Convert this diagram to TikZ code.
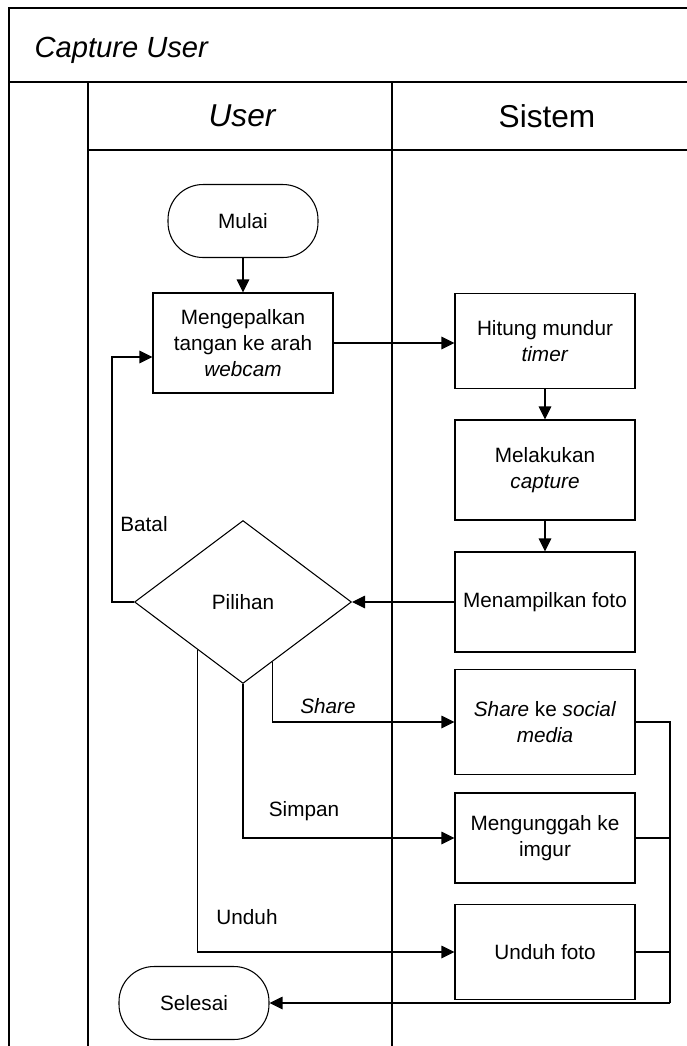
\documentclass[tikz,border=0pt]{standalone}
\usepackage{fontspec}
\setmainfont{Liberation Sans}
\usetikzlibrary{arrows.meta,shapes.geometric}

\begin{document}
\begin{tikzpicture}[x=0.02cm, y=-0.02cm, line width=0.6pt,
	node text/.style={font=\fontsize{11.8}{14.8}\selectfont},
	process/.style={draw, rectangle, node text, align=center, minimum width=3.6cm, inner sep=2pt},
	terminal/.style={draw, rectangle, rounded corners=0.7cm, node text, minimum width=3cm, minimum height=1.46cm},
	decision/.style={draw, diamond, node text, inner sep=0pt, minimum width=4.34cm, minimum height=3.26cm},
	flow/.style={-{Triangle[length=0.26cm,width=0.25cm]}},
	lane/.style={line width=0.8pt}]
	% Fix the size of the page.
	\useasboundingbox (0,0) rectangle (687,1046);

	% Draw the swimlane frame.
	\draw [lane] (9,1046) -- (9,8) -- (687,8);
	\draw [lane] (9,82) -- (687,82);
	\draw [lane] (88,82) -- (88,1046);
	\draw [lane] (88,150) -- (687,150);
	\draw [lane] (392,82) -- (392,1046);

	% Title and lane headers.
	\node [anchor=west, inner sep=0pt, font=\fontsize{16.6}{20}\selectfont\itshape] (title) at (34,50) {Capture User};
	\node [font=\fontsize{18}{22}\selectfont\itshape] (userlane) at (242,116) {User};
	\node [font=\fontsize{18}{22}\selectfont] (sistemlane) at (547,116) {Sistem};

	% Steps of the flow.
	\node [terminal] (mulai) at (243,221) {Mulai};
	\node [process, minimum height=2cm] (gerak) at (243,343) {Mengepalkan\\tangan ke arah\\\textit{webcam}};
	\node [process, minimum height=1.9cm] (hitung) at (545,341) {Hitung mundur\\\textit{timer}};
	\node [process, minimum height=2cm] (capture) at (545,470) {Melakukan\\\textit{capture}};
	\node [process, minimum height=2cm] (tampil) at (545,602) {Menampilkan foto};
	\node [decision] (pilih) at (243,602) {Pilihan};
	\node [process, minimum height=2.1cm] (share) at (545,722) {\textit{Share} ke \textit{social}\\\textit{media}};
	\node [process, minimum height=1.8cm] (unggah) at (545,838) {Mengunggah ke\\imgur};
	\node [process, minimum height=1.9cm] (unduhfoto) at (545,952) {Unduh foto};
	\node [terminal] (selesai) at (194,1003) {Selesai};

	% Labels of the choices.
	\node [node text] (batal) at (144,524) {Batal};
	\node [node text] (sharelbl) at (328,706) {\textit{Share}};
	\node [node text] (simpanlbl) at (304,811) {Simpan};
	\node [node text] (unduhlbl) at (247,917) {Unduh};

	% Connectors.
	\draw [flow] (mulai) -- (gerak);
	\draw [flow] (gerak.east) -- (gerak.east -| hitung.west);
	\draw [flow] (hitung) -- (capture);
	\draw [flow] (capture) -- (tampil);
	\draw [flow] (tampil) -- (pilih);
	\draw [flow] (pilih.west) -- ++(-22,0) |- ([yshift=-0.28cm]gerak.west);
	\draw [flow] (pilih.-64) |- (share);
	\draw [flow] (pilih.south) |- (unggah);
	\draw [flow] (pilih.-134) |- (unduhfoto);

	% Join the three outputs back to the end.
	\coordinate (merge) at (670,1003);
	\draw (share.east) -| (merge);
	\draw (unggah.east) -- (unggah.east -| merge);
	\draw (unduhfoto.east) -- (unduhfoto.east -| merge);
	\draw [flow] (merge) -- (selesai);
\end{tikzpicture}
\end{document}
